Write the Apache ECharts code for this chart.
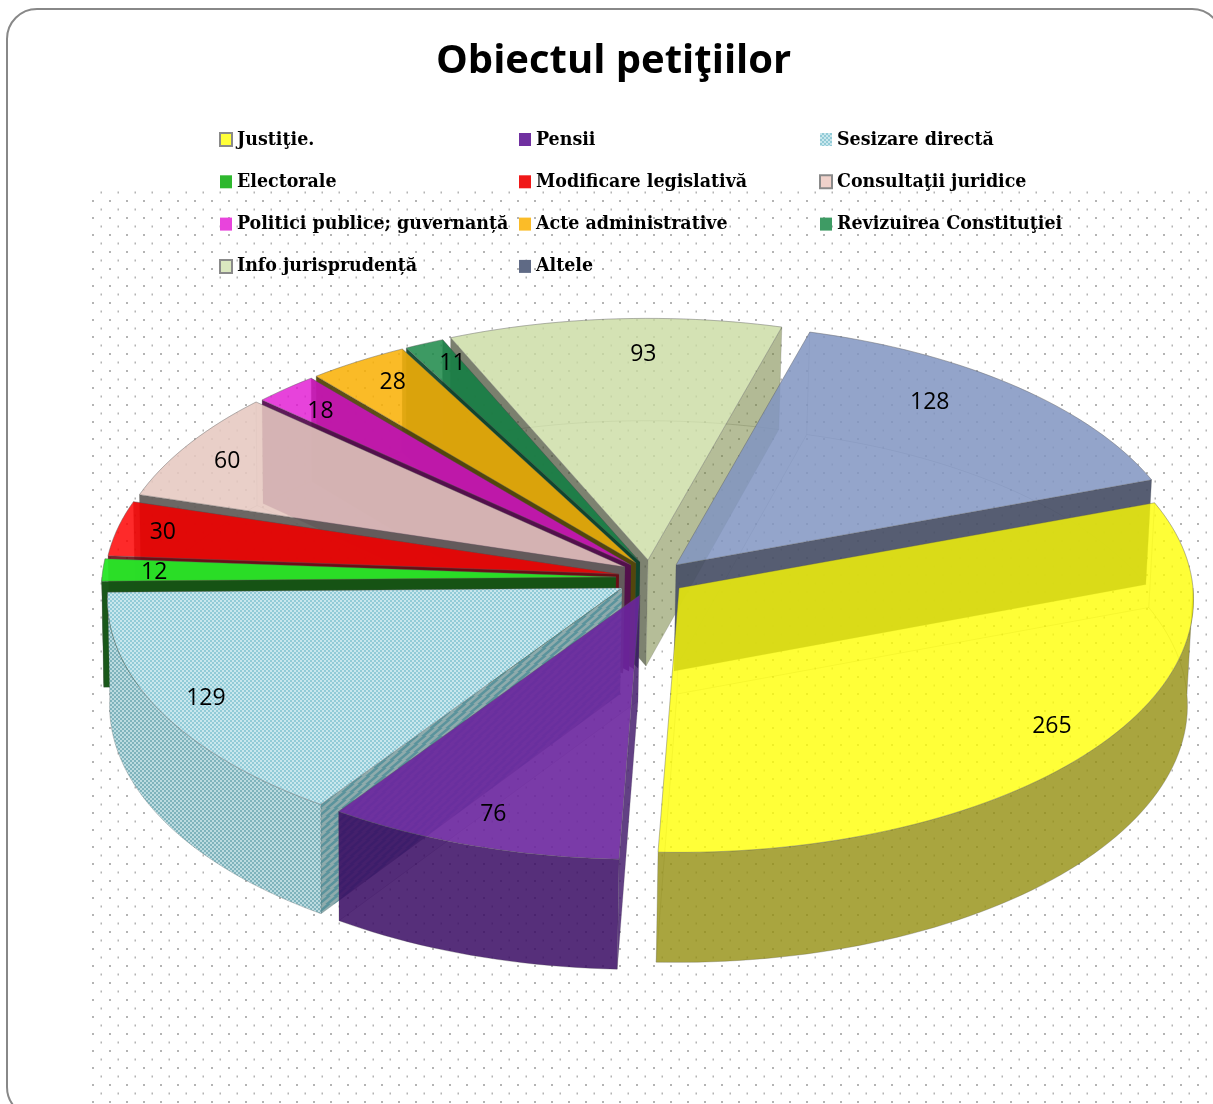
<!DOCTYPE html>
<html><head><meta charset="utf-8">
<style>html,body{margin:0;padding:0;background:#fff}#c{width:1213px;height:1104px}</style>
<script src="https://cdn.jsdelivr.net/npm/echarts@6/dist/echarts.min.js"></script>
</head><body><div id="c"></div>
<script>
// ---- data ----
const categories = ['Justiţie.','Pensii','Sesizare directă','Electorale','Modificare legislativă','Consultaţii juridice','Politici publice; guvernanță','Acte administrative','Revizuirea Constituţiei','Info jurisprudență','Altele'];
const values = [265,76,129,12,30,60,18,28,11,93,128];
const chartTitle = 'Obiectul petiţiilor';

// ---- layout / style ----
const START_DEG = -20, RX = 514, RY = 253, PERSP = 0.045, DEPTH = 106;
const apexes = [[679,588],[640,595],[622,588],[616,577],[619,574],[625,567],[631,565],[636,563],[640,562],[648,560],[676,565]];
const labelFrac = [[.875,.89],[.87,.87],[.9,.885],[.9,.95],[.91,.95],[.91,.88],[.9,.885],[.875,.905],[.87,.92],[.14,.86],[.75,.92]];
const drawOrder = [9,8,10,0,7,6,5,4,3,2,1];

function tile(w,h,draw){const c=document.createElement('canvas');c.width=w;c.height=h;draw(c.getContext('2d'));return {image:c,repeat:'repeat'};}
function checker(a,b,s){return tile(2*s,2*s,g=>{g.fillStyle=a;g.fillRect(0,0,2*s,2*s);g.fillStyle=b;g.fillRect(0,0,s,s);g.fillRect(s,s,s,s);});}
const blueTop = checker('#92cbd7','#c9e7ed',2);
const blueOuter = checker('#7fb3bc','#bcdbe0',2);
const blueStripe = tile(8,8,g=>{g.fillStyle='#8fabac';g.fillRect(0,0,8,8);g.strokeStyle='#5a939c';g.lineWidth=2.5;
  for(let i=-8;i<=16;i+=8){g.beginPath();g.moveTo(i-2,8+1);g.lineTo(i+8+2,-1);g.stroke();}});
const dots = tile(17,17,g=>{g.fillStyle='#b4b4b4';g.fillRect(15.5,4.5,2,2);g.fillRect(7,13,2,2);});

const topColors = ['rgba(255,255,0,.78)','rgba(108,38,159,.9)',blueTop,'rgba(40,230,40,.96)','rgba(255,0,0,.83)','rgba(230,200,192,.88)','rgba(226,21,211,.8)','rgba(250,176,2,.85)','rgba(28,138,73,.85)','rgba(202,220,162,.8)','rgba(129,149,194,.85)'];
const startWalls = ['rgba(120,120,0,.03)','rgba(70,30,110,.85)',blueStripe,'rgba(20,85,20,.98)','rgba(110,10,20,.9)','rgba(100,95,92,.95)','rgba(85,15,80,.95)','rgba(85,70,10,.95)','rgba(15,70,45,.95)','rgba(70,77,51,.7)','rgba(60,70,90,.05)'];
const endWalls = ['rgba(120,120,0,.03)','rgba(50,10,90,.1)','rgba(0,0,0,0)','rgba(0,0,0,0)','rgba(60,20,20,.6)','rgba(123,63,83,.05)','rgba(40,30,0,.8)','rgba(40,90,70,.8)','rgba(20,33,47,.7)','rgba(120,135,67,.55)','rgba(72,79,102,.92)'];
const outerWalls = ['rgba(147,142,15,.8)','rgba(56,10,99,.85)',blueOuter,'rgba(20,85,20,.98)','rgba(110,10,20,.9)','rgba(100,95,92,.9)','rgba(85,15,80,.9)','rgba(85,70,10,.9)','rgba(15,70,45,.9)','rgba(70,77,51,.7)','rgba(72,79,102,.9)'];
const legendColors = ['#ffff38',  '#7030a0', blueTop, '#2eb82e','#f01818','#f0d2cb','#e844dc','#fbbc28','#3e9b64','#dbe8c0','#5f6a85'];
const legendBorders = [true,false,false,false,false,true,false,false,false,true,false];
const legendColumns = [[0,3,6,9],[1,4,7,10],[2,5,8]];
const legendLefts = [219,519,819];

const total = values.reduce((a,b)=>a+b,0);
const rad = d=>d*Math.PI/180;
function sliceAngles(i){let s=START_DEG;for(let k=0;k<i;k++)s+=values[k]/total*360;return [s,s+values[i]/total*360];}
function topPt(i,t){const a=rad(t),p=1+PERSP*Math.sin(a),c=apexes[i];return [c[0]+p*RX*Math.cos(a),c[1]+p*RY*Math.sin(a)];}
function botPt(i,t){const a=rad(t),p=1+PERSP*Math.sin(a),c=apexes[i];return [c[0]-2+.992*p*RX*Math.cos(a),c[1]+DEPTH+1.015*p*RY*Math.sin(a)];}
function arc(fn,i,a,b){const n=Math.max(2,Math.ceil(Math.abs(b-a)/1.5));const r=[];for(let k=0;k<=n;k++)r.push(fn(i,a+(b-a)*k/n));return r;}
const apexBot = i=>[apexes[i][0]-2,apexes[i][1]+DEPTH];
const poly=(pts,fill,z2,stroke,lw)=>({type:'polygon',shape:{points:pts},z2,style:{fill,stroke:stroke||'none',lineWidth:lw||0}});

function renderSlice(i,order){
  return function(){
    const [a,b]=sliceAngles(i), ch=[], z=order*20;
    const A=apexes[i], B=apexBot(i), ln='rgba(70,70,70,.14)';
    const startVis=Math.cos(rad(a))<0, endVis=Math.cos(rad(b))>0;
    ch.push(poly([B,...arc(botPt,i,a,b)],'rgba(255,255,255,0)',z+1,ln,1));
    const splits=[a];[0,180,360].forEach(x=>{if(x>a&&x<b)splits.push(x);});splits.push(b);
    const wallPoly=(p,q)=>[...arc(topPt,i,p,q),...arc(botPt,i,q,p)];
    const front=[];
    for(let k=0;k<splits.length-1;k++){
      const p=splits[k],q=splits[k+1],mid=(p+q)/2;
      if(Math.sin(rad(mid))<0) ch.push(poly(wallPoly(p,q),'rgba(90,90,90,.04)',z+2,ln,1));
      else front.push([p,q]);
    }
    const edge=(t,fill,zz)=>{const O=topPt(i,t),P=botPt(i,t);ch.push(poly([A,O,P,B],fill,zz,ln,.6));};
    if(!startVis) edge(a,startWalls[i],z+3);
    if(!endVis) edge(b,endWalls[i],z+3);
    if(startVis) edge(a,startWalls[i],z+5);
    if(endVis) edge(b,endWalls[i],z+5);
    front.forEach(f=>ch.push(poly(wallPoly(f[0],f[1]),outerWalls[i],z+6,'rgba(70,70,70,.3)',.6)));
    ch.push(poly([A,...arc(topPt,i,a,b)],topColors[i],z+8,'rgba(90,90,90,.45)',.8));
    const m=rad((a+b)/2),p=1+PERSP*Math.sin(m),f=labelFrac[i];
    ch.push({type:'text',z2:2000,style:{text:String(values[i]),x:A[0]+f[0]*p*RX*Math.cos(m),y:A[1]+f[1]*p*RY*Math.sin(m)+2,
      align:'center',verticalAlign:'middle',fill:'#000',font:'23px "Open Sans", sans-serif'}});
    return {type:'group',children:ch};
  };
}

const series = drawOrder.map((i,o)=>({
  type:'custom',name:categories[i],coordinateSystem:'none',silent:true,clip:false,
  data:[[values[i]]],renderItem:renderSlice(i,o),itemStyle:{color:legendColors[i]}
}));

const legend = legendColumns.map((col,ci)=>({
  orient:'vertical',left:legendLefts[ci],top:128,itemWidth:12,itemHeight:13,itemGap:19.3,padding:0,icon:'rect',selectedMode:false,
  textStyle:{fontFamily:'"DejaVu Serif Condensed","DejaVu Serif",serif',fontWeight:'bold',fontSize:19.4,color:'#000',lineHeight:23},
  data:col.map(i=>({name:categories[i],icon:'rect',itemStyle:{color:legendColors[i],borderColor:legendBorders[i]?'#8a8a8a':'transparent',borderWidth:legendBorders[i]?2:0}}))
}));

const chart = echarts.init(document.getElementById('c'),null,{renderer:'canvas'});
chart.setOption({
  animation:false,
  backgroundColor:'#fff',
  title:{text:chartTitle,left:436,top:42,padding:0,textStyle:{fontFamily:'"Open Sans",sans-serif',fontWeight:'bold',fontSize:40,color:'#000'}},
  legend,
  graphic:[
    {type:'rect',z:-2,silent:true,shape:{x:90,y:190,width:1123,height:914},style:{fill:dots}},
    {type:'rect',z:-1,silent:true,shape:{x:7,y:9,width:1215,height:1108,r:30},style:{fill:'transparent',stroke:'#888',lineWidth:2}}
  ],
  series
});
</script></body></html>
